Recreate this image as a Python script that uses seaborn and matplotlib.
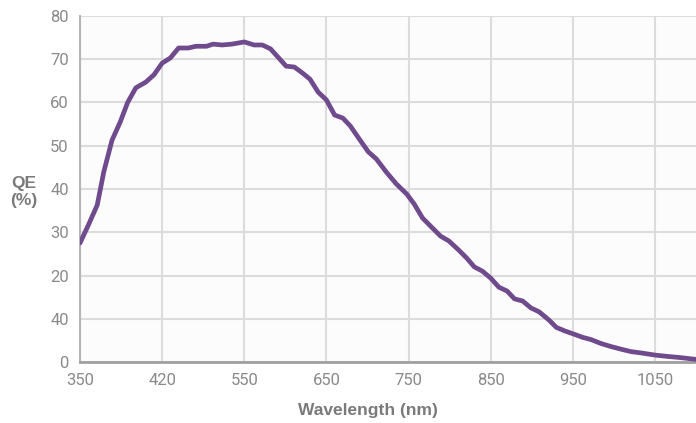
import numpy as np
import pandas as pd
import matplotlib
matplotlib.use("Agg")
import matplotlib.pyplot as plt
import seaborn as sns

# QE curve
wavelength = [350, 361, 371, 379, 389, 399, 408, 418, 430, 440, 450, 460, 470,
              482, 491, 504, 512, 523, 535, 550, 562, 572, 582, 591, 601, 611,
              621, 630, 640, 650, 660, 670, 679, 691, 701, 711, 723, 735, 748,
              757, 767, 779, 789, 799, 811, 821, 830, 840, 850, 860, 870, 879,
              889, 899, 909, 921, 930, 940, 952, 962, 972, 984, 996, 1008,
              1021, 1033, 1050, 1065, 1082, 1100]
qe = [27.5, 32.0, 36.3, 44.0, 51.3, 55.5, 60.0, 63.4, 64.7, 66.4, 69.1, 70.3,
      72.6, 72.6, 73.0, 73.0, 73.5, 73.3, 73.5, 74.0, 73.3, 73.3, 72.4, 70.5,
      68.4, 68.2, 66.8, 65.4, 62.4, 60.6, 57.1, 56.4, 54.6, 51.3, 48.6, 46.9,
      43.9, 41.2, 38.8, 36.5, 33.3, 31.0, 29.1, 28.0, 25.9, 24.0, 22.0, 21.0,
      19.4, 17.3, 16.4, 14.6, 14.1, 12.5, 11.6, 9.7, 8.0, 7.2, 6.4, 5.7, 5.2,
      4.3, 3.6, 3.0, 2.4, 2.1, 1.6, 1.3, 1.0, 0.6]

x_ticks = [350, 450, 550, 650, 750, 850, 950, 1050]
x_labels = ["350", "420", "550", "650", "750", "850", "950", "1050"]
y_ticks = [0, 10, 20, 30, 40, 50, 60, 70, 80]
y_labels = ["0", "40", "20", "30", "40", "50", "60", "70", "80"]

df = pd.DataFrame({"wavelength": wavelength, "qe": qe})

sns.set_style("whitegrid")
plt.rcParams["font.family"] = ["Roboto", "DejaVu Sans"]

grey = "#8a8a8a"
fig = plt.figure(figsize=(6.96, 4.23), dpi=100)
ax = fig.add_axes([80 / 696, 1 - 362 / 423, 1 - 80 / 696, (362 - 16) / 423])
ax.set_facecolor("#fcfcfc")

sns.lineplot(data=df, x="wavelength", y="qe", ax=ax, color="#6f4b8d",
             linewidth=3.4, zorder=3)

ax.set_xlim(350, 1100)
ax.set_ylim(0, 80)
ax.set_xticks(x_ticks)
ax.set_xticklabels(x_labels)
ax.set_yticks(y_ticks)
ax.set_yticklabels(y_labels)
ax.tick_params(axis="both", length=0, labelsize=12, labelcolor=grey)
ax.tick_params(axis="x", pad=8)
ax.tick_params(axis="y", pad=8)
ax.grid(True, color="#dcdcdc", linewidth=1.5)

for side in ["top", "right"]:
    ax.spines[side].set_visible(False)
ax.spines["left"].set_color("#b5b5b5")
ax.spines["left"].set_linewidth(1.5)
ax.spines["bottom"].set_color("#a0a0a0")
ax.spines["bottom"].set_linewidth(2)

ax.set_xlabel("Wavelength (nm)", fontsize=12.5, fontweight="bold", color="#7a7a7a",
              family=["Liberation Sans", "DejaVu Sans"])
ax.xaxis.set_label_coords((368 - 80) / 616, -(410 - 362) / 346)
ax.xaxis.label.set_va("center")
ax.set_ylabel("")
fig.text(24 / 696, 1 - 192 / 423, "QE\n(%)", ha="center", va="center",
         fontsize=12.5, fontweight="bold", color="#7a7a7a",
         family=["Liberation Sans", "DejaVu Sans"], linespacing=1.15)

fig.savefig("out.png", dpi=100)
